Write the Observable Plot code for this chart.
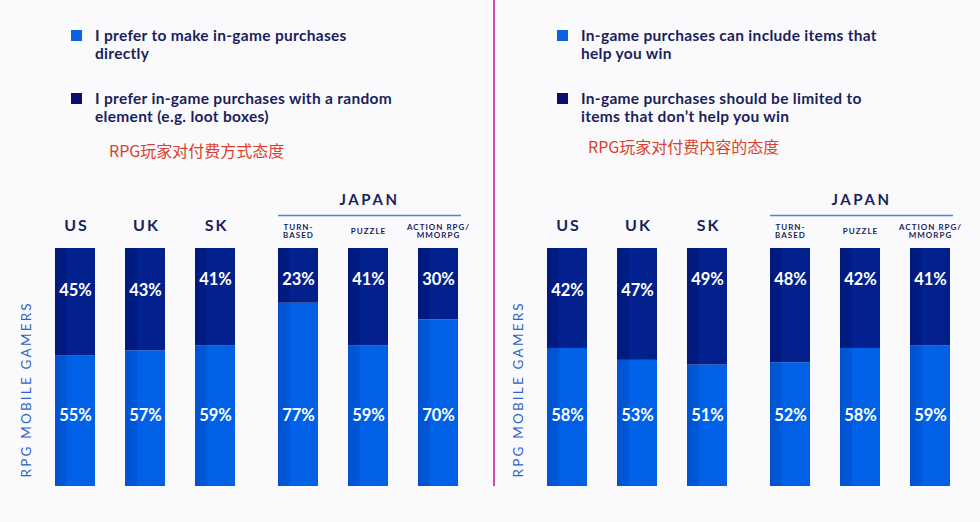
<!DOCTYPE html>
<html><head><meta charset="utf-8">
<script src="https://cdn.jsdelivr.net/npm/d3@7"></script>
<script src="https://cdn.jsdelivr.net/npm/@observablehq/plot@0.6"></script>
<style>
html,body{margin:0;padding:0;background:#fafafc;}
#root{position:relative;width:980px;height:522px;overflow:hidden;font-family:Lato, "Noto Sans", sans-serif;background:#fafafc;}
.sq{position:absolute;width:11px;height:11px;}
.lg{position:absolute;font-weight:700;font-size:15.5px;letter-spacing:0.3px;line-height:18px;color:#1b1f5c;white-space:nowrap;}
.cn{position:absolute;font-family:"Noto Sans CJK SC", sans-serif;font-size:16px;line-height:18px;color:#d9412e;white-space:nowrap;}
.divider{position:absolute;left:493px;top:0;width:1.5px;height:486px;background:#d64aa8;}
.panel{position:absolute;top:180px;width:490px;height:342px;}
</style></head>
<body>
<svg width="0" height="0" style="position:absolute;left:0;top:0">
  <defs>
    <linearGradient id="gLight" x1="0" x2="1" y1="0" y2="0">
      <stop offset="0" stop-color="#0053cf"/>
      <stop offset="0.28" stop-color="#0057d8"/>
      <stop offset="0.32" stop-color="#0062e9"/>
      <stop offset="1" stop-color="#0061e6"/>
    </linearGradient>
    <linearGradient id="gDark" x1="0" x2="1" y1="0" y2="0">
      <stop offset="0" stop-color="#00197a"/>
      <stop offset="0.28" stop-color="#001c84"/>
      <stop offset="0.32" stop-color="#03228f"/>
      <stop offset="1" stop-color="#02208c"/>
    </linearGradient>
  </defs>
</svg>
<div id="root">
  <div class="divider"></div>
  <div id="legendL"></div>
  <div id="legendR"></div>
  <div class="panel" id="panelL" style="left:0"></div>
  <div class="panel" id="panelR" style="left:490px"></div>
</div>
<script>
const categories = ["US", "UK", "SK", "TURN-BASED", "PUZZLE", "ACTION RPG/MMORPG"];
const categoryLabels = ["US", "UK", "SK", "TURN-\nBASED", "PUZZLE", "ACTION RPG/\nMMORPG"];
const groups = ["COUNTRY", "COUNTRY", "COUNTRY", "JAPAN", "JAPAN", "JAPAN"];
const groupTitle = "JAPAN";
const axisLabel = "RPG MOBILE GAMERS";

// Left panel: attitude toward payment method
const methodSeries = ["I prefer to make in-game purchases\ndirectly", "I prefer in-game purchases with a random\nelement (e.g. loot boxes)"];
const methodDirect = [55, 57, 59, 77, 59, 70];
const methodRandom = [45, 43, 41, 23, 41, 30];
const methodTitle = "RPG玩家对付费方式态度";

// Right panel: attitude toward payment content
const contentSeries = ["In-game purchases can include items that\nhelp you win", "In-game purchases should be limited to\nitems that don’t help you win"];
const contentHelpWin = [58, 53, 51, 52, 58, 59];
const contentLimited = [42, 47, 49, 48, 42, 41];
const contentTitle = "RPG玩家对付费内容的态度";

const lowerLabelCats = ["US", "UK"];

function legend(el, series, title, opt) {
  const colors = ["#0b63e2", "#0b0f6a"];
  const tops = [26, 89];
  let html = "";
  series.forEach((s, i) => {
    html += `<div class="sq" style="left:${opt.sq}px;top:${tops[i] + 4}px;background:${colors[i]}"></div>`;
    html += `<div class="lg" style="left:${opt.tx}px;top:${tops[i]}px">${s.replace("\n", "<br>")}</div>`;
  });
  html += `<div class="cn" style="left:${opt.cnx}px;top:${opt.cny}px">${title}</div>`;
  el.innerHTML = html;
}

function panel(el, low, high, series, mL, mR) {
  const rows = [];
  const cats = categories.map((c, i) => ({
    cat: c, label: categoryLabels[i], group: groups[i],
    slot: groups.slice(0, i).filter(g => g === groups[i]).length
  }));
  cats.forEach((c, i) => {
    rows.push({...c, series: series[0], value: low[i], rank: 0});
    rows.push({...c, series: series[1], value: high[i], rank: 1});
  });
  const bottomRows = rows.filter(d => d.rank === 0);
  const topRows = rows.filter(d => d.rank === 1);
  const txt = {fill: "white", fontSize: 16.5, fontWeight: 700, lineAnchor: "middle"};
  const chart = Plot.plot({
    width: 490, height: 342,
    marginTop: 68, marginBottom: 36, marginLeft: mL, marginRight: mR,
    style: {background: "transparent", overflow: "visible", fontFamily: "Lato, sans-serif"},
    x: {type: "band", domain: [0, 1, 2], paddingInner: 0.4286, paddingOuter: 0.2143, axis: null},
    fx: {domain: ["COUNTRY", "JAPAN"], paddingInner: 0.0583, paddingOuter: 0, axis: null},
    y: {domain: [0, 100], axis: null},
    color: {domain: series, range: ["url(#gLight)", "url(#gDark)"]},
    marks: [
      Plot.barY(rows, Plot.stackY({x: "slot", fx: "group", y: "value", fill: "series", order: series})),
      Plot.text(bottomRows, {x: "slot", fx: "group", frameAnchor: "bottom", dy: -71, text: d => d.value + "%", ...txt}),
      Plot.text(topRows.filter(d => lowerLabelCats.includes(d.cat)), {x: "slot", fx: "group", frameAnchor: "top", dy: 42, text: d => d.value + "%", ...txt}),
      Plot.text(topRows.filter(d => !lowerLabelCats.includes(d.cat)), {x: "slot", fx: "group", frameAnchor: "top", dy: 31, text: d => d.value + "%", ...txt}),
      Plot.text(cats.filter(d => d.group === "COUNTRY"), {x: "slot", fx: "group", frameAnchor: "top", dx: 1, dy: -23, text: "label", fill: "#1b1f5c", fontSize: 16, fontWeight: 700, lineAnchor: "middle"}),
      Plot.text(cats.filter(d => d.group === "JAPAN"), {x: "slot", fx: "group", frameAnchor: "top", dy: -17, text: "label", fill: "#1b1f5c", fontSize: 8, fontWeight: 700, lineAnchor: "middle", lineHeight: 1.05}),
      Plot.text([{group: "JAPAN"}], {fx: "group", frameAnchor: "top", dx: 1, dy: -48, text: () => groupTitle, fill: "#1b1f5c", fontSize: 15, fontWeight: 700, lineAnchor: "middle"}),
      Plot.ruleY([{group: "JAPAN", v: 100}], {fx: "group", y: "v", dy: -33, insetLeft: 15, insetRight: 12, stroke: "#4f85d8", strokeWidth: 1.5}),
      Plot.text([{group: "COUNTRY"}], {fx: "group", frameAnchor: "bottom-left", dx: -10, dy: -9, rotate: -90, textAnchor: "start", text: () => axisLabel, fill: "#2f64c9", fontSize: 13.5})
    ]
  });
  // letter spacing for header-style texts
  const countryNames = categories.filter((c, i) => groups[i] === "COUNTRY");
  const genreNames = categoryLabels.filter((c, i) => groups[i] === "JAPAN").map(s => s.replace("\n", ""));
  chart.querySelectorAll("text").forEach(t => {
    const s = t.textContent;
    let ls = null;
    if (countryNames.includes(s)) ls = "2px";
    else if (s === groupTitle) ls = "2.6px";
    else if (s === axisLabel) ls = "2.2px";
    else if (genreNames.includes(s)) ls = "1px";
    if (ls) t.style.letterSpacing = ls;
  });
  el.appendChild(chart);
}

legend(document.getElementById("legendL"), methodSeries, methodTitle, {sq: 71, tx: 95, cnx: 109, cny: 141});
legend(document.getElementById("legendR"), contentSeries, contentTitle, {sq: 557, tx: 581, cnx: 588, cny: 137});
panel(document.getElementById("panelL"), methodDirect, methodRandom, methodSeries, 40, 17);
panel(document.getElementById("panelR"), contentHelpWin, contentLimited, contentSeries, 42, 15);
</script>
</body></html>
